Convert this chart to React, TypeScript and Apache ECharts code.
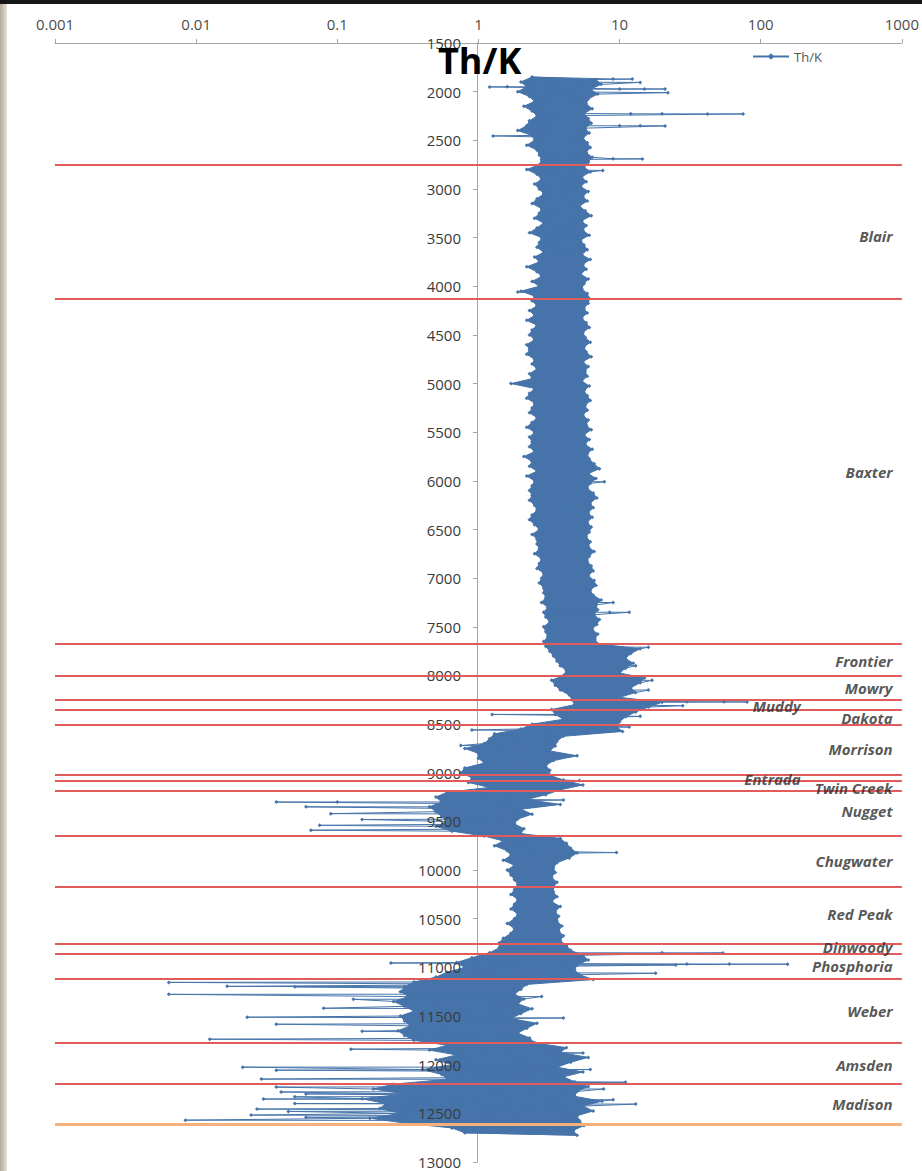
import React, { useEffect, useRef } from "react";
import * as echarts from "echarts";

// ---- Data ----
const depthStart = 1850;
const depthStep = 50;

// left (low) and right (high) edge of the Th/K trace, one pair per 50 ft, 1850..12700 ft
const bandLow = [
  // 1850-2700
  2.4, 2.0, 2.2, 1.9, 2.3, 2.5, 2.1, 2.4, 2.6, 2.3, 2.2, 1.9, 2.4, 2.5, 2.2, 2.6, 2.7, 2.8,
  // 2750-4100 (Blair)
  2.7, 2.2, 2.6, 2.8, 2.5, 2.7, 2.9, 2.6, 2.4, 2.8, 2.7, 2.5, 2.9, 2.6, 2.3, 2.8, 2.7, 2.6, 2.9, 2.5,
  2.7, 2.2, 2.6, 2.8, 2.4, 2.7, 2.0, 2.5,
  // 4150-7650 (Baxter)
  2.4, 2.6, 2.3, 2.5, 2.2, 2.6, 2.4, 2.3, 2.5, 2.2,
  2.3, 2.2, 2.5, 2.4, 2.6, 2.3, 2.4, 1.7, 2.5, 2.3,
  2.2, 2.5, 2.4, 2.3, 2.6, 2.4, 2.2, 2.5, 2.3, 2.4,
  2.3, 2.5, 2.1, 2.4, 2.3, 2.6, 2.2, 2.5, 2.4, 2.3,
  2.4, 2.3, 2.5, 2.6, 2.4, 2.3, 2.5, 2.7, 2.4, 2.6,
  2.6, 2.7, 2.5, 2.8, 2.7, 2.6, 2.9, 2.8, 2.7, 2.9,
  2.9, 3.0, 2.8, 3.1, 2.9, 3.0, 3.2, 2.9, 3.0, 3.1,
  2.9,
  // 7700-7950 (Frontier)
  3.0, 3.2, 3.4, 3.6, 3.8, 4.2,
  // 8000-8200 (Mowry)
  4.0, 3.3, 3.5, 3.8, 4.4,
  // 8250-8300 (Muddy)
  4.6, 4.8,
  // 8350-8450 (Dakota)
  3.3, 3.5, 4.0,
  // 8500-8950 (Morrison)
  2.4, 2.0, 1.3, 1.2, 1.1, 0.8, 1.0, 1.0, 1.1, 0.8,
  // 9000-9150 (Entrada, Twin Creek)
  0.75, 0.9, 0.85, 1.2,
  // 9200-9600 (Nugget)
  0.6, 0.5, 0.55, 0.45, 0.5, 0.55, 0.6, 0.5, 0.65,
  // 9650-10150 (Chugwater)
  1.1, 1.5, 1.3, 1.6, 1.7, 1.5, 1.8, 1.6, 1.7, 1.8, 1.9,
  // 10200-10750 (Red Peak)
  1.8, 1.7, 1.9, 1.8, 1.7, 1.9, 1.8, 1.6, 1.8, 1.7, 1.5, 1.4,
  // 10800-10850 (Dinwoody)
  1.4, 1.2,
  // 10900-11100 (Phosphoria)
  0.9, 0.7, 0.8, 0.6, 0.5,
  // 11150-11750 (Weber)
  0.35, 0.3, 0.28, 0.32, 0.25, 0.3, 0.35, 0.28, 0.3, 0.33, 0.27, 0.3, 0.35,
  // 11800-12150 (Amsden)
  0.6, 0.45, 0.7, 0.5, 0.65, 0.4, 0.55, 0.6,
  // 12200-12600 (Madison)
  0.25, 0.18, 0.3, 0.15, 0.22, 0.2, 0.28, 0.17, 0.3,
  // 12650-12700
  0.65, 0.8,
];

const bandHigh = [
  6.8, 7.4, 6.2, 7.0, 6.0, 5.8, 6.4, 5.6, 6.0, 6.3, 5.7, 6.1, 5.5, 5.9, 6.2, 5.8, 6.4, 6.0,
  5.6, 6.2, 5.4, 5.8, 5.3, 6.0, 5.5, 5.9, 5.2, 5.7, 6.3, 5.4, 5.8, 5.5, 6.1, 5.3, 5.6, 5.9, 5.4, 6.2,
  5.5, 5.8, 5.3, 6.0, 5.6, 5.4, 5.9, 6.1,
  6.0, 5.6, 5.9, 5.4, 5.8, 6.1, 5.5, 5.7, 6.2, 5.6,
  5.8, 6.3, 5.5, 6.0, 5.7, 5.9, 5.4, 6.1, 5.6, 5.9,
  6.2, 5.7, 5.9, 5.5, 6.0, 5.8, 6.3, 5.6, 6.1, 5.7,
  6.4, 5.9, 6.1, 6.6, 7.2, 6.0, 6.8, 6.2, 5.9, 6.5,
  6.9, 6.2, 6.5, 6.0, 6.4, 5.9, 6.3, 6.1, 5.8, 6.2,
  6.0, 6.6, 6.1, 5.9, 6.3, 6.5, 6.0, 6.6, 6.8, 6.2,
  6.5, 7.4, 6.8, 7.0, 6.6, 7.2, 6.9, 6.4, 7.0, 6.7,
  7.0,
  14, 12, 11, 12.5, 11, 10,
  15, 14, 12, 13, 10,
  20, 16,
  13, 11, 10,
  9.5, 10.5, 4.0, 3.6, 3.5, 3.2, 5.0, 3.4, 3.0, 3.2,
  3.2, 4.0, 5.5, 3.8,
  3.0, 2.2, 3.8, 2.0, 2.4, 1.9, 1.8, 2.1, 2.0,
  3.8, 4.2, 4.5, 5.0, 4.4, 3.6, 3.4, 3.5, 3.3, 3.6, 3.4,
  3.4, 3.6, 3.3, 3.8, 3.5, 3.7, 3.6, 3.9, 3.7, 4.0, 3.8, 4.2,
  4.5, 5.5,
  6.0, 5.0, 4.8, 5.2, 6.5,
  2.2, 2.0, 1.8, 2.1, 1.9, 2.4, 2.0, 1.7, 2.6, 2.2, 1.9, 2.3, 2.5,
  4.2, 3.8, 6.0, 4.5, 3.6, 5.5, 4.0, 4.8,
  6.0, 5.0, 4.8, 7.5, 5.5, 6.5, 5.0, 5.2, 5.6,
  4.7, 5.0,
];

// isolated excursions of the trace: [depth ft, Th/K]
const spikes: [number, number][] = [
  [1870, 9], [1871, 12.3], [1905, 14], [1950, 1.6], [1951, 1.2],
  [1972, 10], [1972, 15], [1973, 21], [2010, 22],
  [2228, 12], [2228, 20], [2229, 42], [2229, 75],
  [2351, 10], [2351, 14], [2352, 21], [2455, 1.27],
  [2690, 9], [2691, 14.5], [2810, 7.6], [4060, 1.9],
  [6010, 7.8], [7250, 9], [7350, 8.5], [7351, 11.7],
  [7710, 16], [7900, 13], [8050, 17], [8150, 16],
  [8270, 30], [8271, 55], [8272, 80], [8310, 28],
  [8400, 1.25], [8420, 14], [8530, 11.7], [8560, 0.9], [8720, 0.75],
  [9080, 5.2], [9280, 4.0], [9300, 0.1], [9301, 0.037], [9350, 0.06],
  [9420, 0.09], [9480, 0.15], [9540, 0.075], [9590, 0.065],
  [9820, 9.5], [10850, 20], [10851, 54], [10955, 0.24],
  [10965, 30], [10966, 60], [10967, 155], [10975, 25], [11060, 18],
  [11154, 0.0064], [11195, 0.0166], [11200, 0.05], [11277, 0.0064],
  [11300, 2.8], [11328, 0.13], [11420, 0.08], [11512, 0.023], [11520, 4.0],
  [11584, 0.037], [11656, 0.15], [11738, 0.0125], [11840, 0.125], [11880, 5.5],
  [12025, 0.0214], [12050, 6.2], [12056, 0.037], [12148, 0.029], [12180, 11],
  [12230, 0.037], [12250, 7.7], [12280, 0.04], [12300, 0.06], [12330, 0.05],
  [12353, 0.03], [12360, 9], [12400, 0.05], [12405, 13], [12456, 0.027],
  [12480, 0.045], [12518, 0.0245], [12540, 0.06], [12570, 0.0084],
];

// formation tops (red lines) and base (orange line), ft
const formationTops = [2752, 4126, 7676, 8001, 8247, 8350, 8504, 9016, 9084, 9187, 9648, 10168, 10760, 10863, 11119, 11779, 12196];
const baseDepth = 12613;

const formationNames = ["Blair", "Baxter", "Frontier", "Mowry", "Muddy", "Dakota", "Morrison", "Entrada", "Twin Creek", "Nugget", "Chugwater", "Red Peak", "Dinwoody", "Phosphoria", "Weber", "Amsden", "Madison"];
const formationLabelDepths = [3480, 5911, 7847, 8127, 8312, 8435, 8753, 9068, 9153, 9389, 9902, 10456, 10794, 10989, 11451, 12001, 12402];
const formationLabelAnchor = [860, 860, 860, 860, 192, 860, 860, 192, 860, 860, 860, 860, 860, 860, 860, 860, 860];

// ---- Build series data ----
const bandPoints: [number, number][] = [];
bandLow.forEach((lo, i) => {
  const d = depthStart + i * depthStep;
  bandPoints.push([lo, d]);
  bandPoints.push([bandHigh[i], d + depthStep / 2]);
});
const thkPoints = [...bandPoints, ...spikes.map(([d, v]) => [v, d] as [number, number])].sort(
  (a, b) => a[1] - b[1]
);

const FONT = "Open Sans";
const BLUE = "#4674aa";

const depthAxisBase = {
  type: "value",
  inverse: true,
  min: 1500,
  max: 13000,
  interval: 500,
  position: "left",
  offset: -422,
  splitLine: { show: false },
};

const option: any = {
  animation: false,
  backgroundColor: "#ffffff",
  title: {
    text: "Th/K",
    left: 438,
    top: 42,
    padding: 0,
    textStyle: { fontFamily: FONT, fontSize: 36, fontWeight: "bold", color: "#000" },
  },
  legend: {
    data: ["Th/K"],
    left: 752,
    top: 50,
    padding: 0,
    itemWidth: 36,
    itemHeight: 8,
    itemGap: 4,
    textStyle: { fontFamily: FONT, fontSize: 13, color: "#555" },
  },
  grid: { left: 55, right: 16, top: 43, bottom: 9 },
  xAxis: {
    type: "log",
    logBase: 10,
    min: 0.001,
    max: 1000,
    position: "top",
    axisLine: { lineStyle: { color: "#a6a6a6", width: 1 } },
    axisTick: { show: true, length: 4, lineStyle: { color: "#a6a6a6" } },
    minorTick: { show: false },
    splitLine: { show: false },
    axisLabel: {
      fontFamily: FONT,
      fontSize: 15,
      color: "#4d4d4d",
      margin: 12,
      formatter: (v: number) => String(Number(v.toPrecision(3))),
    },
  },
  yAxis: [
    {
      ...depthAxisBase,
      z: 0,
      axisLine: { show: true, lineStyle: { color: "#a6a6a6", width: 1 } },
      axisTick: { show: true, length: 4, lineStyle: { color: "#a6a6a6" } },
      axisLabel: { show: false },
    },
    {
      ...depthAxisBase,
      z: 3,
      axisLine: { show: false },
      axisTick: { show: false },
      axisLabel: {
        fontFamily: FONT,
        fontSize: 15,
        color: "#3a3a3a",
        margin: 16,
        formatter: (v: number) => String(v),
      },
    },
  ],
  series: [
    {
      name: "band",
      type: "custom",
      silent: true,
      z: 1,
      yAxisIndex: 0,
      data: [[1, 5000]],
      renderItem: (_params: any, api: any) => {
        const pts: number[][] = [];
        bandLow.forEach((lo, i) => {
          pts.push(api.coord([lo, depthStart + i * depthStep]));
        });
        for (let i = bandHigh.length - 1; i >= 0; i--) {
          pts.push(api.coord([bandHigh[i], depthStart + i * depthStep + depthStep / 2]));
        }
        return {
          type: "polygon",
          shape: { points: pts },
          style: { fill: BLUE, stroke: BLUE, lineWidth: 1 },
        };
      },
    },
    {
      name: "Th/K",
      type: "line",
      yAxisIndex: 0,
      data: thkPoints,
      symbol: "diamond",
      symbolSize: 4,
      showSymbol: true,
      itemStyle: { color: BLUE },
      lineStyle: { color: BLUE, width: 1 },
      z: 2,
    },
    {
      name: "Formations",
      type: "scatter",
      yAxisIndex: 0,
      symbolSize: 0,
      silent: true,
      z: 5,
      data: formationNames.map((n, i) => [formationLabelAnchor[i], formationLabelDepths[i], n]),
      label: {
        show: true,
        position: "left",
        distance: 0,
        formatter: (p: any) => p.data[2],
        fontFamily: FONT,
        fontSize: 15,
        fontStyle: "italic",
        fontWeight: "bold",
        color: "#2b2b2b",
      },
      markLine: {
        silent: true,
        symbol: "none",
        label: { show: false },
        lineStyle: { color: "#e25b5b", width: 2, type: "solid" },
        data: [
          ...formationTops.map((d) => ({ yAxis: d })),
          { yAxis: baseDepth, lineStyle: { color: "#f5b07c", width: 3, type: "solid" } },
        ],
      },
    },
  ],
};

export default function App() {
  const ref = useRef<HTMLDivElement>(null);
  useEffect(() => {
    const chart = echarts.init(ref.current!, null, { renderer: "svg" });
    chart.setOption(option);
    return () => chart.dispose();
  }, []);
  return (
    <div style={{ position: "absolute", left: 0, top: 0, width: 922, height: 1171, background: "#fff", overflow: "hidden" }}>
      <div ref={ref} style={{ position: "absolute", left: 0, top: 0, width: 922, height: 1171 }} />
      <div style={{ position: "absolute", left: 0, top: 0, width: 922, height: 4, background: "#151515" }} />
      <div
        style={{
          position: "absolute",
          left: 0,
          top: 4,
          width: 7,
          height: 1167,
          background: "linear-gradient(90deg,#b3a998,#cfc7ba 55%,#e6e1d9)",
        }}
      />
    </div>
  );
}
